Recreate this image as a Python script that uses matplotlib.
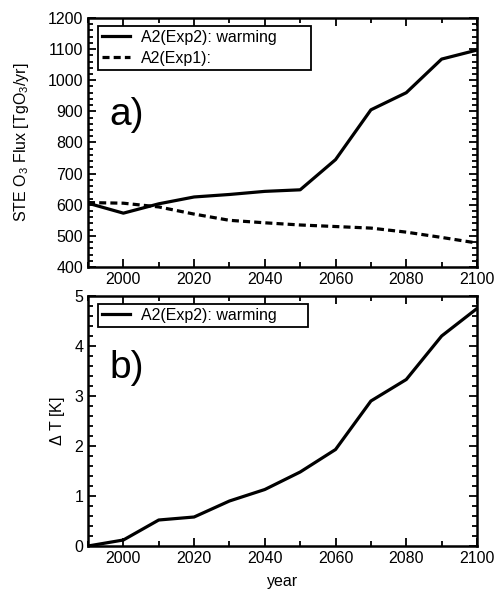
import matplotlib
matplotlib.use("Agg")
import matplotlib.pyplot as plt
from matplotlib.ticker import MultipleLocator

plt.rcParams['font.family'] = ['Liberation Sans', 'DejaVu Sans']
plt.rcParams['mathtext.fontset'] = 'custom'
plt.rcParams['mathtext.rm'] = 'Liberation Sans'

years = [1990, 2000, 2010, 2020, 2030, 2040, 2050, 2060, 2070, 2080, 2090, 2100]
flux_exp2 = [605, 573, 603, 625, 633, 643, 648, 745, 905, 960, 1068, 1097]
flux_exp1 = [607, 605, 593, 570, 550, 542, 535, 530, 525, 512, 495, 477]
dT_exp2 = [0.0, 0.12, 0.52, 0.58, 0.9, 1.13, 1.48, 1.93, 2.9, 3.33, 4.2, 4.75]

fig = plt.figure(figsize=(4.98, 5.95), dpi=100)
W, H = 498, 595
ax1 = fig.add_axes([88/W, 1-267/H, (477-88)/W, (267-18)/H])
ax2 = fig.add_axes([88/W, 1-546/H, (477-88)/W, (546-296)/H])

lw = 2.3
ax1.plot(years, flux_exp2, color='black', lw=lw, label='A2(Exp2): warming')
ax1.plot(years, flux_exp1, color='black', lw=lw, ls=(0, (2.2, 1.3)), label='A2(Exp1):')
ax2.plot(years, dT_exp2, color='black', lw=lw, label='A2(Exp2): warming')

ax1.set_ylim(400, 1200)
ax1.yaxis.set_major_locator(MultipleLocator(100))
ax1.yaxis.set_minor_locator(MultipleLocator(20))
ax2.set_ylim(0, 5)
ax2.yaxis.set_major_locator(MultipleLocator(1))
ax2.yaxis.set_minor_locator(MultipleLocator(0.2))

for ax in (ax1, ax2):
    ax.set_xlim(1990, 2100)
    ax.xaxis.set_major_locator(MultipleLocator(20))
    ax.xaxis.set_minor_locator(MultipleLocator(10))
    ax.tick_params(which='both', direction='in', top=True, right=True, labelsize=11.5, width=1.3)
    ax.tick_params(which='major', length=6)
    ax.tick_params(which='minor', length=3.5)
    for s in ax.spines.values():
        s.set_linewidth(1.8)
    ax.set_xticks([2000, 2020, 2040, 2060, 2080, 2100])

ax1.set_ylabel('STE O$_3$ Flux [TgO$_3$/yr]', fontsize=11.5, labelpad=12)
ax2.set_ylabel('$\\Delta$ T [K]', fontsize=11.5, labelpad=5)
ax2.set_xlabel('year', fontsize=11.5, labelpad=6)

ax1.text(0.055, 0.57, 'a)', transform=ax1.transAxes, fontsize=28, va='baseline')
ax2.text(0.055, 0.672, 'b)', transform=ax2.transAxes, fontsize=28, va='baseline')

legend_boxes = [(ax1, (98 - 88) / 389, 0.968, (311 - 98) / 389, 45 / 249),
                (ax2, (98 - 88) / 389, 0.968, (308 - 98) / 389, 21 / 250)]
for ax, x0, ytop, w, h in legend_boxes:
    leg = ax.legend(loc='upper left', bbox_to_anchor=(x0, ytop - h, w, h), mode='expand',
                    fontsize=11.5, frameon=True, fancybox=False, borderpad=0.25,
                    handlelength=1.75, labelspacing=0.35, borderaxespad=0, handletextpad=0.7)
    leg.get_frame().set_edgecolor('black')
    leg.get_frame().set_linewidth(1.3)
    leg.get_frame().set_alpha(1)

fig.savefig('out.png', dpi=100)
